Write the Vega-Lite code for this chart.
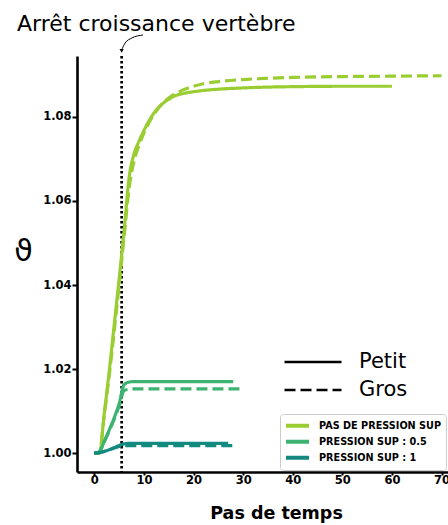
{
  "$schema": "https://vega.github.io/schema/vega-lite/v6.json",
  "width": 371,
  "height": 416,
  "autosize": "none",
  "padding": {"left": 77, "top": 56, "right": 0, "bottom": 53},
  "background": "white",
  "config": {
    "view": {"stroke": null},
    "font": "DejaVu Sans",
    "axis": {"grid": false, "domainColor": "black", "domainWidth": 2.6, "tickColor": "black", "tickWidth": 2, "labelColor": "black", "labelFont": "DejaVu Sans", "labelFontWeight": "bold", "labelFontSize": 11.5, "titleColor": "black", "titleFont": "DejaVu Sans"}
  },
  "title": {"text": "Arrêt croissance vertèbre", "anchor": "start", "frame": "group", "dx": -60, "dy": 25, "offset": 0, "fontSize": 22, "fontWeight": "normal", "font": "DejaVu Sans", "color": "black", "baseline": "bottom"},
  "datasets": {
    "courbes": [
      {"t": 0, "v": 1.0, "serie": "PAS DE PRESSION SUP", "taille": "Petit"},
      {"t": 1, "v": 1.0, "serie": "PAS DE PRESSION SUP", "taille": "Petit"},
      {"t": 2, "v": 1.0095, "serie": "PAS DE PRESSION SUP", "taille": "Petit"},
      {"t": 3, "v": 1.0195, "serie": "PAS DE PRESSION SUP", "taille": "Petit"},
      {"t": 4, "v": 1.0305, "serie": "PAS DE PRESSION SUP", "taille": "Petit"},
      {"t": 5, "v": 1.0415, "serie": "PAS DE PRESSION SUP", "taille": "Petit"},
      {"t": 6, "v": 1.053, "serie": "PAS DE PRESSION SUP", "taille": "Petit"},
      {"t": 7, "v": 1.0655, "serie": "PAS DE PRESSION SUP", "taille": "Petit"},
      {"t": 8, "v": 1.0712, "serie": "PAS DE PRESSION SUP", "taille": "Petit"},
      {"t": 9, "v": 1.0742, "serie": "PAS DE PRESSION SUP", "taille": "Petit"},
      {"t": 10, "v": 1.0768, "serie": "PAS DE PRESSION SUP", "taille": "Petit"},
      {"t": 11, "v": 1.079, "serie": "PAS DE PRESSION SUP", "taille": "Petit"},
      {"t": 12, "v": 1.0809, "serie": "PAS DE PRESSION SUP", "taille": "Petit"},
      {"t": 13, "v": 1.0823, "serie": "PAS DE PRESSION SUP", "taille": "Petit"},
      {"t": 14, "v": 1.0834, "serie": "PAS DE PRESSION SUP", "taille": "Petit"},
      {"t": 15, "v": 1.0842, "serie": "PAS DE PRESSION SUP", "taille": "Petit"},
      {"t": 16, "v": 1.0849, "serie": "PAS DE PRESSION SUP", "taille": "Petit"},
      {"t": 18, "v": 1.0856, "serie": "PAS DE PRESSION SUP", "taille": "Petit"},
      {"t": 20, "v": 1.086, "serie": "PAS DE PRESSION SUP", "taille": "Petit"},
      {"t": 22, "v": 1.0863, "serie": "PAS DE PRESSION SUP", "taille": "Petit"},
      {"t": 25, "v": 1.0866, "serie": "PAS DE PRESSION SUP", "taille": "Petit"},
      {"t": 30, "v": 1.0869, "serie": "PAS DE PRESSION SUP", "taille": "Petit"},
      {"t": 35, "v": 1.0871, "serie": "PAS DE PRESSION SUP", "taille": "Petit"},
      {"t": 40, "v": 1.0872, "serie": "PAS DE PRESSION SUP", "taille": "Petit"},
      {"t": 50, "v": 1.0873, "serie": "PAS DE PRESSION SUP", "taille": "Petit"},
      {"t": 60, "v": 1.0873, "serie": "PAS DE PRESSION SUP", "taille": "Petit"},
      {"t": 0, "v": 1.0, "serie": "PAS DE PRESSION SUP", "taille": "Gros"},
      {"t": 1, "v": 1.0, "serie": "PAS DE PRESSION SUP", "taille": "Gros"},
      {"t": 2, "v": 1.009, "serie": "PAS DE PRESSION SUP", "taille": "Gros"},
      {"t": 3, "v": 1.0185, "serie": "PAS DE PRESSION SUP", "taille": "Gros"},
      {"t": 4, "v": 1.029, "serie": "PAS DE PRESSION SUP", "taille": "Gros"},
      {"t": 5, "v": 1.04, "serie": "PAS DE PRESSION SUP", "taille": "Gros"},
      {"t": 6, "v": 1.0515, "serie": "PAS DE PRESSION SUP", "taille": "Gros"},
      {"t": 7, "v": 1.063, "serie": "PAS DE PRESSION SUP", "taille": "Gros"},
      {"t": 8, "v": 1.0695, "serie": "PAS DE PRESSION SUP", "taille": "Gros"},
      {"t": 9, "v": 1.0732, "serie": "PAS DE PRESSION SUP", "taille": "Gros"},
      {"t": 10, "v": 1.0762, "serie": "PAS DE PRESSION SUP", "taille": "Gros"},
      {"t": 11, "v": 1.0786, "serie": "PAS DE PRESSION SUP", "taille": "Gros"},
      {"t": 12, "v": 1.0806, "serie": "PAS DE PRESSION SUP", "taille": "Gros"},
      {"t": 13, "v": 1.0822, "serie": "PAS DE PRESSION SUP", "taille": "Gros"},
      {"t": 14, "v": 1.0835, "serie": "PAS DE PRESSION SUP", "taille": "Gros"},
      {"t": 15, "v": 1.0845, "serie": "PAS DE PRESSION SUP", "taille": "Gros"},
      {"t": 16, "v": 1.0853, "serie": "PAS DE PRESSION SUP", "taille": "Gros"},
      {"t": 18, "v": 1.0865, "serie": "PAS DE PRESSION SUP", "taille": "Gros"},
      {"t": 20, "v": 1.0873, "serie": "PAS DE PRESSION SUP", "taille": "Gros"},
      {"t": 22, "v": 1.0879, "serie": "PAS DE PRESSION SUP", "taille": "Gros"},
      {"t": 25, "v": 1.0884, "serie": "PAS DE PRESSION SUP", "taille": "Gros"},
      {"t": 30, "v": 1.0889, "serie": "PAS DE PRESSION SUP", "taille": "Gros"},
      {"t": 35, "v": 1.0892, "serie": "PAS DE PRESSION SUP", "taille": "Gros"},
      {"t": 40, "v": 1.0894, "serie": "PAS DE PRESSION SUP", "taille": "Gros"},
      {"t": 50, "v": 1.0896, "serie": "PAS DE PRESSION SUP", "taille": "Gros"},
      {"t": 60, "v": 1.0897, "serie": "PAS DE PRESSION SUP", "taille": "Gros"},
      {"t": 70, "v": 1.0898, "serie": "PAS DE PRESSION SUP", "taille": "Gros"},
      {"t": 0, "v": 1.0, "serie": "PRESSION SUP : 0.5", "taille": "Petit"},
      {"t": 1, "v": 1.0003, "serie": "PRESSION SUP : 0.5", "taille": "Petit"},
      {"t": 2, "v": 1.0028, "serie": "PRESSION SUP : 0.5", "taille": "Petit"},
      {"t": 3, "v": 1.0055, "serie": "PRESSION SUP : 0.5", "taille": "Petit"},
      {"t": 4, "v": 1.0084, "serie": "PRESSION SUP : 0.5", "taille": "Petit"},
      {"t": 5, "v": 1.0118, "serie": "PRESSION SUP : 0.5", "taille": "Petit"},
      {"t": 6, "v": 1.0163, "serie": "PRESSION SUP : 0.5", "taille": "Petit"},
      {"t": 7, "v": 1.0169, "serie": "PRESSION SUP : 0.5", "taille": "Petit"},
      {"t": 8, "v": 1.017, "serie": "PRESSION SUP : 0.5", "taille": "Petit"},
      {"t": 15, "v": 1.017, "serie": "PRESSION SUP : 0.5", "taille": "Petit"},
      {"t": 28, "v": 1.017, "serie": "PRESSION SUP : 0.5", "taille": "Petit"},
      {"t": 0, "v": 1.0, "serie": "PRESSION SUP : 0.5", "taille": "Gros"},
      {"t": 1, "v": 1.0003, "serie": "PRESSION SUP : 0.5", "taille": "Gros"},
      {"t": 2, "v": 1.0027, "serie": "PRESSION SUP : 0.5", "taille": "Gros"},
      {"t": 3, "v": 1.0053, "serie": "PRESSION SUP : 0.5", "taille": "Gros"},
      {"t": 4, "v": 1.0081, "serie": "PRESSION SUP : 0.5", "taille": "Gros"},
      {"t": 5, "v": 1.0113, "serie": "PRESSION SUP : 0.5", "taille": "Gros"},
      {"t": 6, "v": 1.0149, "serie": "PRESSION SUP : 0.5", "taille": "Gros"},
      {"t": 7, "v": 1.0152, "serie": "PRESSION SUP : 0.5", "taille": "Gros"},
      {"t": 8, "v": 1.0153, "serie": "PRESSION SUP : 0.5", "taille": "Gros"},
      {"t": 15, "v": 1.0153, "serie": "PRESSION SUP : 0.5", "taille": "Gros"},
      {"t": 30, "v": 1.0153, "serie": "PRESSION SUP : 0.5", "taille": "Gros"},
      {"t": 0, "v": 1.0, "serie": "PRESSION SUP : 1", "taille": "Petit"},
      {"t": 1, "v": 1.0001, "serie": "PRESSION SUP : 1", "taille": "Petit"},
      {"t": 2, "v": 1.0004, "serie": "PRESSION SUP : 1", "taille": "Petit"},
      {"t": 3, "v": 1.0008, "serie": "PRESSION SUP : 1", "taille": "Petit"},
      {"t": 4, "v": 1.0013, "serie": "PRESSION SUP : 1", "taille": "Petit"},
      {"t": 5, "v": 1.0018, "serie": "PRESSION SUP : 1", "taille": "Petit"},
      {"t": 6, "v": 1.0022, "serie": "PRESSION SUP : 1", "taille": "Petit"},
      {"t": 7, "v": 1.0023, "serie": "PRESSION SUP : 1", "taille": "Petit"},
      {"t": 15, "v": 1.0023, "serie": "PRESSION SUP : 1", "taille": "Petit"},
      {"t": 27, "v": 1.0023, "serie": "PRESSION SUP : 1", "taille": "Petit"},
      {"t": 0, "v": 1.0, "serie": "PRESSION SUP : 1", "taille": "Gros"},
      {"t": 1, "v": 1.0001, "serie": "PRESSION SUP : 1", "taille": "Gros"},
      {"t": 2, "v": 1.0004, "serie": "PRESSION SUP : 1", "taille": "Gros"},
      {"t": 3, "v": 1.0008, "serie": "PRESSION SUP : 1", "taille": "Gros"},
      {"t": 4, "v": 1.0012, "serie": "PRESSION SUP : 1", "taille": "Gros"},
      {"t": 5, "v": 1.0016, "serie": "PRESSION SUP : 1", "taille": "Gros"},
      {"t": 6, "v": 1.0018, "serie": "PRESSION SUP : 1", "taille": "Gros"},
      {"t": 7, "v": 1.0018, "serie": "PRESSION SUP : 1", "taille": "Gros"},
      {"t": 15, "v": 1.0018, "serie": "PRESSION SUP : 1", "taille": "Gros"},
      {"t": 28, "v": 1.0018, "serie": "PRESSION SUP : 1", "taille": "Gros"}
    ],
    "arret": [{"t": 5.5}],
    "fleche": [
      {"t": 9.8, "v": 1.0995},
      {"t": 7.6, "v": 1.0988},
      {"t": 6.2, "v": 1.0976},
      {"t": 5.6, "v": 1.0962}
    ],
    "pointe": [{"t": 5.5, "v": 1.0957}]
  },
  "layer": [
    {
      "data": {"name": "arret"},
      "mark": {"type": "rule", "color": "black", "strokeWidth": 2.7, "strokeDash": [2.5, 2.5]},
      "encoding": {
        "x": {"field": "t", "type": "quantitative", "scale": {"domain": [-3.5, 71.3], "nice": false, "zero": false}}
      }
    },
    {
      "data": {"name": "courbes"},
      "mark": {"type": "line", "strokeWidth": 3.2, "interpolate": "monotone", "strokeCap": "butt"},
      "encoding": {
        "x": {"field": "t", "type": "quantitative", "scale": {"domain": [-3.5, 71.3], "nice": false, "zero": false},
          "axis": {"values": [0, 10, 20, 30, 40, 50, 60, 70], "format": "d", "tickSize": 3, "labelPadding": -1, "title": "Pas de temps", "titleFontSize": 17.5, "titleFontWeight": "bold", "titleX": 199, "titleY": 46, "titleAlign": "center", "titleBaseline": "alphabetic"}},
        "y": {"field": "v", "type": "quantitative", "scale": {"domain": [0.9955, 1.0945], "nice": false, "zero": false},
          "axis": {"values": [1.0, 1.02, 1.04, 1.06, 1.08], "format": ".2f", "tickSize": 5, "labelPadding": 1, "title": "ϑ", "titleFontSize": 30, "titleFontWeight": "normal", "titleAngle": 0, "titleX": -54, "titleY": 195, "titleAlign": "center", "titleBaseline": "middle"}},
        "color": {"field": "serie", "type": "nominal",
          "scale": {"domain": ["PAS DE PRESSION SUP", "PRESSION SUP : 0.5", "PRESSION SUP : 1"], "range": ["#9acd32", "#3cb371", "#138a80"]},
          "legend": {"title": null, "orient": "none", "legendX": 203, "legendY": 358, "symbolType": "stroke", "symbolSize": 529, "symbolStrokeWidth": 4, "clipHeight": 15.5, "rowPadding": 0, "labelFont": "DejaVu Sans", "labelFontSize": 9.7, "labelFontWeight": "bold", "labelColor": "black", "labelOffset": 8, "padding": 4, "fillColor": "white", "strokeColor": "#cccccc", "cornerRadius": 3, "labelLimit": 300}},
        "strokeDash": {"field": "taille", "type": "nominal",
          "scale": {"domain": ["Petit", "Gros"], "range": [[1, 0], [11, 5]]},
          "legend": {"title": null, "orient": "none", "legendX": 206, "legendY": 292, "symbolType": "stroke", "symbolSize": 3249, "symbolStrokeWidth": 2.5, "symbolStrokeColor": "black", "clipHeight": 28, "rowPadding": 0, "labelFont": "DejaVu Sans", "labelFontSize": 21, "labelColor": "black", "labelOffset": 16, "padding": 0,
            "encode": {"symbols": {"update": {"strokeDash": {"signal": "datum.value === 'Gros' ? [8, 3.5] : [1, 0]"}}}}}},
        "order": {"field": "t", "type": "quantitative"}
      }
    },
    {
      "data": {"name": "fleche"},
      "mark": {"type": "line", "color": "black", "strokeWidth": 1, "interpolate": "monotone"},
      "encoding": {
        "x": {"field": "t", "type": "quantitative", "scale": {"domain": [-3.5, 71.3], "nice": false, "zero": false}},
        "y": {"field": "v", "type": "quantitative", "scale": {"domain": [0.9955, 1.0945], "nice": false, "zero": false}},
        "order": {"field": "v", "type": "quantitative", "sort": "descending"}
      }
    },
    {
      "data": {"name": "pointe"},
      "mark": {"type": "point", "shape": "triangle-down", "filled": true, "color": "black", "size": 18, "opacity": 1},
      "encoding": {
        "x": {"field": "t", "type": "quantitative", "scale": {"domain": [-3.5, 71.3], "nice": false, "zero": false}},
        "y": {"field": "v", "type": "quantitative", "scale": {"domain": [0.9955, 1.0945], "nice": false, "zero": false}}
      }
    }
  ]
}
